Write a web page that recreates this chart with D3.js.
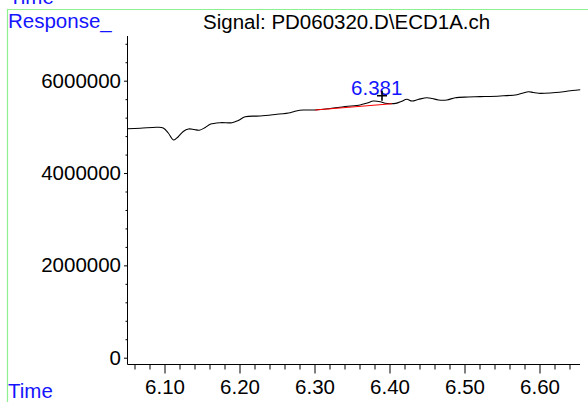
<!DOCTYPE html>
<html>
<head>
<meta charset="utf-8">
<script src="https://cdn.jsdelivr.net/npm/d3@7"></script>
<style>
  html, body { margin: 0; padding: 0; background: #fff; }
  svg { display: block; font-family: "Liberation Sans", Arial, sans-serif; }
</style>
</head>
<body>
<svg id="chart" width="588" height="402"></svg>
<script>
// ---- data ----
const signalTime = [6.0503, 6.0676, 6.0899, 6.0983, 6.105, 6.112, 6.118, 6.125, 6.132, 6.1396, 6.1463, 6.1543, 6.1609, 6.1743, 6.1899, 6.1983, 6.2076, 6.2276, 6.2476, 6.2676, 6.2756, 6.2853, 6.3009, 6.3209, 6.3409, 6.3609, 6.3703, 6.3787, 6.3876, 6.3943, 6.4009, 6.4099, 6.4156, 6.4232, 6.4299, 6.4383, 6.4499, 6.4569, 6.4653, 6.4765, 6.4876, 6.5049, 6.5209, 6.5476, 6.5699, 6.5783, 6.5853, 6.5916, 6.5987, 6.6143, 6.6319, 6.6436, 6.6543];
const signalValue = [4960000, 4969000, 4991000, 4976000, 4867000, 4716000, 4781000, 4900000, 4954000, 4943000, 4926000, 4986000, 5056000, 5090000, 5090000, 5138000, 5220000, 5235000, 5268000, 5307000, 5344000, 5365000, 5365000, 5398000, 5441000, 5474000, 5517000, 5560000, 5545000, 5510000, 5502000, 5515000, 5549000, 5597000, 5560000, 5593000, 5632000, 5615000, 5582000, 5582000, 5632000, 5647000, 5654000, 5669000, 5697000, 5734000, 5762000, 5745000, 5727000, 5734000, 5762000, 5788000, 5805000];
const baselineTime = [6.3009, 6.4031];
const baselineValue = [5365000, 5502000];
const peakLabel = "6.381";
const peakLabelTime = 6.381;
const peakLabelValue = 5680000;
const crossTime = 6.390;
const crossValue = 5675000;
const xMajorTicks = [6.10, 6.20, 6.30, 6.40, 6.50, 6.60];
const xMinorTicks = [6.06, 6.08, 6.12, 6.14, 6.16, 6.18, 6.22, 6.24, 6.26, 6.28, 6.32, 6.34, 6.36, 6.38, 6.42, 6.44, 6.46, 6.48, 6.52, 6.54, 6.56, 6.58, 6.62, 6.64];
const yMajorTicks = [0, 2000000, 4000000, 6000000];
const yMinorTicks = [400000, 800000, 1200000, 1600000, 2400000, 2800000, 3200000, 3600000, 4400000, 4800000, 5200000, 5600000, 6400000, 6800000];
const titleText = "Signal: PD060320.D\\ECD1A.ch";

// ---- drawing ----
const svg = d3.select("#chart");
const blue = "#1414ff";
const green = "#8ef08e";

const x = d3.scaleLinear().domain([6.05, 6.654]).range([127, 580]);
const y = d3.scaleLinear().domain([0, 6000000]).range([357.7, 80.7]);
const axisLeftX = 127.5, axisBottomY = 364.5, axisTopY = 36;

// green frame lines
svg.append("line").attr("x1", 7.5).attr("x2", 7.5).attr("y1", 9).attr("y2", 402)
  .attr("stroke", green).attr("stroke-width", 1.2);
svg.append("line").attr("x1", 7).attr("x2", 588).attr("y1", 9.5).attr("y2", 9.5)
  .attr("stroke", green).attr("stroke-width", 1.2);

// texts
svg.append("text").attr("x", 9).attr("y", 4).attr("fill", blue).attr("font-size", 20.5).text("Time");
svg.append("text").attr("x", 8).attr("y", 27.5).attr("fill", blue).attr("font-size", 20.5).text("Response_");
svg.append("text").attr("x", 203).attr("y", 29).attr("fill", "#000").attr("font-size", 20.5).text(titleText);
svg.append("text").attr("x", 8).attr("y", 398).attr("fill", blue).attr("font-size", 20.5).text("Time");

// y axis
const gy = svg.append("g").attr("transform", `translate(${axisLeftX},0)`);
gy.call(d3.axisLeft(y).tickValues(yMajorTicks).tickSize(3.5).tickPadding(3).tickFormat(d3.format("d")));
gy.select(".domain").remove();
gy.selectAll("text").attr("font-size", 20.5).attr("font-family", "Liberation Sans, Arial, sans-serif").attr("fill", "#000");
gy.selectAll("line").attr("stroke", "#000");
const gy2 = svg.append("g").attr("transform", `translate(${axisLeftX},0)`);
gy2.call(d3.axisLeft(y).tickValues(yMinorTicks).tickSize(2).tickFormat(""));
gy2.select(".domain").remove();
gy2.selectAll("line").attr("stroke", "#000");
svg.append("line").attr("x1", axisLeftX).attr("x2", axisLeftX).attr("y1", axisTopY).attr("y2", axisBottomY)
  .attr("stroke", "#000").attr("stroke-width", 1);

// x axis
const gx = svg.append("g").attr("transform", `translate(0,${axisBottomY})`);
gx.call(d3.axisBottom(x).tickValues(xMajorTicks).tickSize(9).tickPadding(6).tickFormat(d3.format(".2f")));
gx.select(".domain").remove();
gx.selectAll("text").attr("font-size", 20.5).attr("font-family", "Liberation Sans, Arial, sans-serif").attr("fill", "#000");
gx.selectAll("line").attr("stroke", "#000");
const gx2 = svg.append("g").attr("transform", `translate(0,${axisBottomY})`);
gx2.call(d3.axisBottom(x).tickValues(xMinorTicks).tickSize(5).tickFormat(""));
gx2.select(".domain").remove();
gx2.selectAll("line").attr("stroke", "#000");
svg.append("line").attr("x1", axisLeftX).attr("x2", 580).attr("y1", axisBottomY).attr("y2", axisBottomY)
  .attr("stroke", "#000").attr("stroke-width", 1);

// signal
const pts = signalTime.map((t, i) => [t, signalValue[i]]);
const line = d3.line().x(d => x(d[0])).y(d => y(d[1])).curve(d3.curveCatmullRom.alpha(0.5));
svg.append("path").datum(pts).attr("d", line).attr("fill", "none").attr("stroke", "#000").attr("stroke-width", 1.1);

// baseline
const bpts = baselineTime.map((t, i) => [t, baselineValue[i]]);
svg.append("path").datum(bpts).attr("d", d3.line().x(d => x(d[0])).y(d => y(d[1])))
  .attr("fill", "none").attr("stroke", "#ff0000").attr("stroke-width", 1.1);

// peak label + cross
svg.append("text").attr("x", x(peakLabelTime) + 1.5).attr("y", y(peakLabelValue) + 0)
  .attr("text-anchor", "middle").attr("fill", blue).attr("font-size", 20.5).text(peakLabel);
const cx = x(crossTime), cy = y(crossValue);
svg.append("line").attr("x1", cx - 5).attr("x2", cx + 5).attr("y1", cy).attr("y2", cy).attr("stroke", "#000").attr("stroke-width", 1.6);
svg.append("line").attr("x1", cx).attr("x2", cx).attr("y1", cy - 5).attr("y2", cy + 5).attr("stroke", "#000").attr("stroke-width", 1.6);
</script>
</body>
</html>
